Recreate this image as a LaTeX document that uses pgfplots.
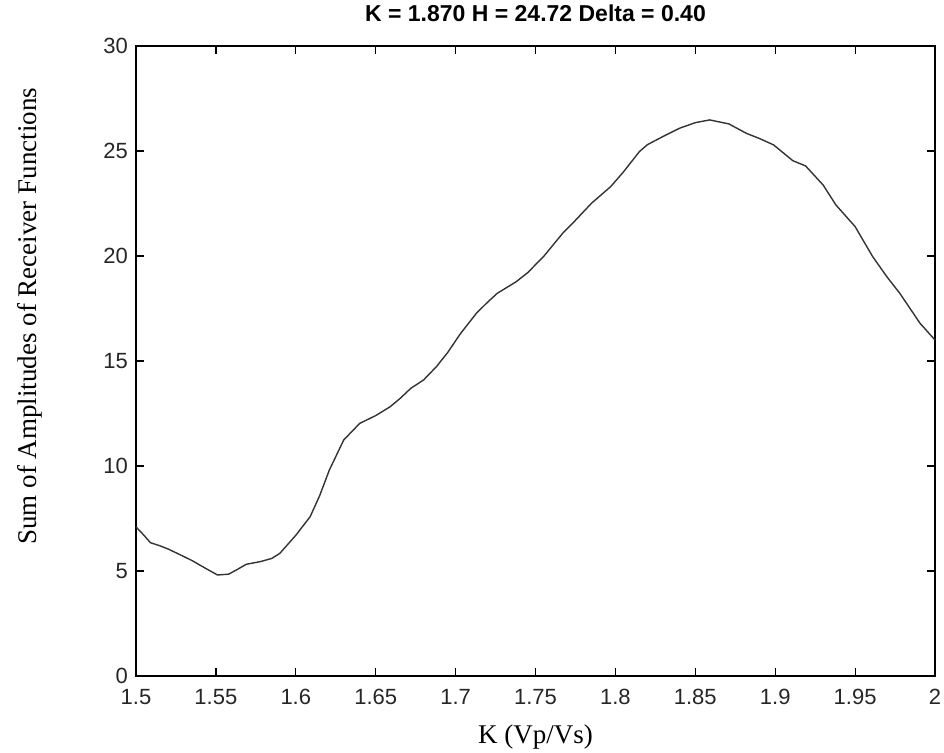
\documentclass[border=0pt]{standalone}
\usepackage{pgfplots}
\pgfplotsset{compat=1.18}
\usepackage{fontspec}
\setmainfont{Liberation Serif}
\newfontfamily\arial{Liberation Sans}
\pgfplotstableread{
x y
1.500 7.1
1.505 6.7
1.509 6.35
1.515 6.2
1.520 6.05
1.528 5.76
1.535 5.5
1.543 5.15
1.551 4.81
1.558 4.85
1.564 5.1
1.569 5.32
1.578 5.45
1.585 5.6
1.590 5.84
1.600 6.7
1.609 7.59
1.615 8.6
1.621 9.81
1.630 11.24
1.640 12.03
1.650 12.4
1.659 12.82
1.665 13.2
1.672 13.7
1.680 14.1
1.688 14.73
1.695 15.4
1.703 16.3
1.713 17.27
1.720 17.8
1.726 18.22
1.738 18.78
1.745 19.2
1.755 19.97
1.767 21.08
1.775 21.7
1.785 22.51
1.797 23.3
1.805 24.0
1.815 24.97
1.820 25.3
1.830 25.7
1.840 26.08
1.850 26.35
1.859 26.48
1.871 26.29
1.882 25.84
1.890 25.6
1.899 25.29
1.911 24.54
1.919 24.29
1.930 23.38
1.938 22.43
1.950 21.4
1.961 19.97
1.970 19.0
1.978 18.22
1.9906 16.8
2.000 16.0
}\datatable
\begin{document}
\begin{tikzpicture}
\begin{axis}[
  scale only axis, width=799pt, height=630pt,
  xmin=1.5, xmax=2, ymin=0, ymax=30,
  xtick={1.5,1.55,1.6,1.65,1.7,1.75,1.8,1.85,1.9,1.95,2},
  xticklabels={1.5,1.55,1.6,1.65,1.7,1.75,1.8,1.85,1.9,1.95,2},
  ytick={0,5,10,15,20,25,30},
  yticklabels={0,5,10,15,20,25,30},
  tick align=inside, major tick length=8pt,
  tick style={line width=1.2pt, black},
  ticklabel style={font=\arial\fontsize{22}{24}\selectfont, text=black!85, inner sep=1pt},
  xticklabel style={anchor=north, yshift=-12pt},
  yticklabel style={xshift=-7pt},
  /pgf/number format/assume math mode=true,
  axis line style={line width=1.5pt},
  title={K = 1.870 H = 24.72 Delta = 0.40},
  title style={font=\arial\bfseries\fontsize{23}{26}\selectfont, at={(axis description cs:0.5,1.0286)}, anchor=base},
  xlabel={K (Vp/Vs)},
  xlabel style={font=\fontsize{27}{30}\selectfont, at={(axis description cs:0.5,-0.107)}, anchor=base},
  ylabel={Sum of Amplitudes of Receiver Functions},
  ylabel style={font=\fontsize{27}{30}\selectfont, at={(axis description cs:-0.1327,0.571)}, anchor=center},
  clip=false,
]
\addplot[line width=1.4pt, black!80, no marks] table[x=x,y=y] {\datatable};
\end{axis}
\path[use as bounding box] (-136pt,-75pt) rectangle (808pt,676pt);
\end{tikzpicture}
\end{document}
